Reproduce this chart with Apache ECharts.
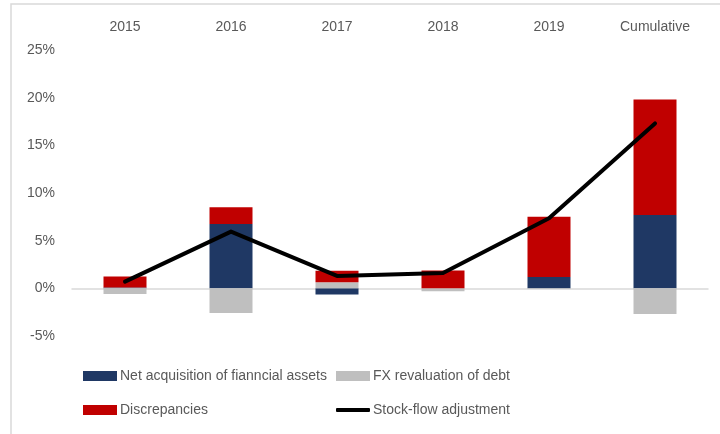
<!DOCTYPE html>
<html><head><meta charset="utf-8">
<script src="https://cdn.jsdelivr.net/npm/echarts@6/dist/echarts.min.js"></script>
<style>html,body{margin:0;padding:0;background:#fff}#c{width:720px;height:434px}</style>
</head><body><div id="c"></div>
<script>
const categories = ['2015','2016','2017','2018','2019','Cumulative'];
const netAcquisition = [0.1, 6.75, -0.65, 0.0, 1.2, 7.7];
const fxRevaluation = [-0.6, -2.6, 0.65, -0.3, -0.05, -2.7];
const discrepancies = [1.15, 1.75, 1.2, 1.86, 6.3, 12.1];
const stockFlow = [0.7, 5.95, 1.3, 1.6, 7.35, 17.3];
const yTicks = [-5, 0, 5, 10, 15, 20, 25];

const font = 'Liberation Sans';
const txt = '#595959';
const chart = echarts.init(document.getElementById('c'));
function legendAt(name, left, top, icon, h) {
  return {
    data: [{name: name, icon: icon}], left: left, top: top, itemWidth: 34, itemHeight: h,
    itemGap: 0, padding: 0, selectedMode: false,
    textStyle: {fontFamily: font, fontSize: 14, color: txt, padding: [0,0,0,-2]}
  };
}
chart.setOption({
  animation: false,
  textStyle: {fontFamily: font},
  graphic: [{type: 'rect', shape: {x: 11, y: 4, width: 740, height: 460},
    style: {fill: 'none', stroke: '#d9d9d9', lineWidth: 1.5}, silent: true}],
  grid: {left: 72, right: 12, top: 50, bottom: 98},
  legend: [
    legendAt('Net acquisition of fianncial assets', 83, 369, 'rect', 10),
    legendAt('FX revaluation of debt', 336, 369, 'rect', 10),
    legendAt('Discrepancies', 83, 403, 'rect', 10),
    legendAt('Stock-flow adjustment', 336, 403, 'roundRect', 4)
  ],
  xAxis: [
    {type: 'category', data: categories, position: 'bottom',
     axisLine: {onZero: true, lineStyle: {color: '#d9d9d9', width: 1.5}},
     axisTick: {show: false}, axisLabel: {show: false}},
    {type: 'category', data: categories, position: 'top', offset: 8,
     axisLine: {show: false}, axisTick: {show: false},
     axisLabel: {color: txt, fontSize: 14, fontFamily: font}}
  ],
  yAxis: {type: 'value', min: yTicks[0], max: yTicks[yTicks.length-1], interval: 5,
    splitLine: {show: false}, axisLine: {show: false}, axisTick: {show: false},
    axisLabel: {color: txt, fontSize: 14, fontFamily: font, margin: 17, formatter: v => v + '%'}},
  series: [
    {name: 'Net acquisition of fianncial assets', type: 'bar', stack: 's', data: netAcquisition,
     barWidth: 43, itemStyle: {color: '#1f3864'}},
    {name: 'FX revaluation of debt', type: 'bar', stack: 's', data: fxRevaluation,
     itemStyle: {color: '#bfbfbf'}},
    {name: 'Discrepancies', type: 'bar', stack: 's', data: discrepancies,
     itemStyle: {color: '#c00000'}},
    {name: 'Stock-flow adjustment', type: 'line', data: stockFlow, showSymbol: false, symbol: 'none',
     lineStyle: {color: '#000', width: 4, cap: 'round', join: 'round'}, itemStyle: {color: '#000'}, z: 5}
  ]
});
</script></body></html>
